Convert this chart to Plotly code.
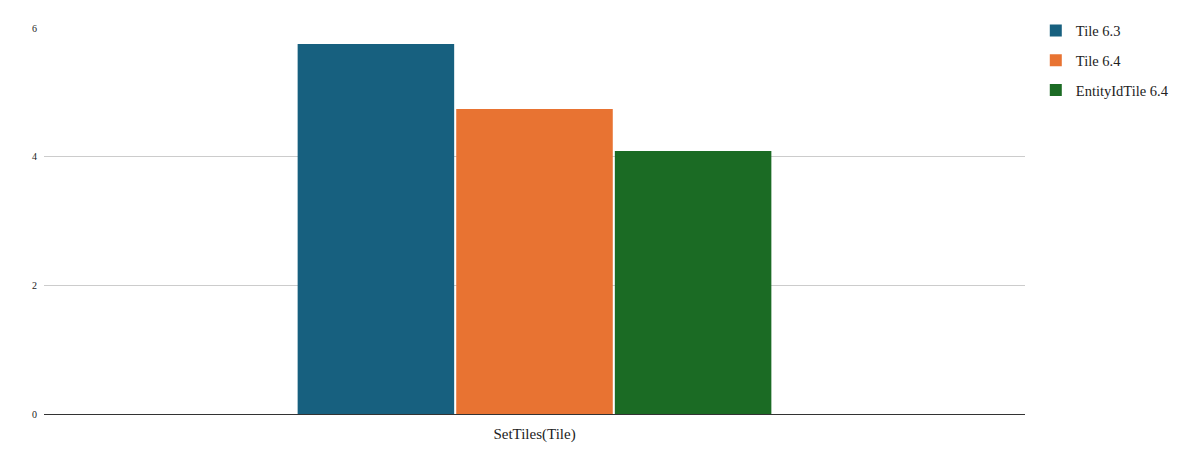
import plotly.graph_objects as go

categories = ["SetTiles(Tile)"]
series_names = ["Tile 6.3", "Tile 6.4", "EntityIdTile 6.4"]
tile_63 = [5.75]
tile_64 = [4.74]
entity_tile_64 = [4.09]
colors = ["#17607F", "#E87332", "#1B6B24"]
y_ticks = [0, 2, 4, 6]

fig = go.Figure()
for i, (name, vals) in enumerate(zip(series_names, [tile_63, tile_64, entity_tile_64])):
    fig.add_trace(go.Bar(
        x=categories, y=vals, name=name, marker_color=colors[i],
        marker_line_width=0, legendgroup=f"g{i}",
    ))

serif = "Liberation Serif, Times New Roman, serif"
fig.update_layout(
    width=1190, height=465,
    margin=dict(l=36, r=173, t=20, b=59, autoexpand=False),
    paper_bgcolor="white", plot_bgcolor="white",
    barmode="group", bargap=0.515, bargroupgap=0.013,
    font=dict(family=serif, color="#222222"),
    showlegend=True,
    legend=dict(
        x=1.011, y=1.035, xanchor="left", yanchor="top",
        font=dict(family=serif, size=14.5, color="#222222"),
        traceorder="grouped", tracegroupgap=8,
        itemwidth=30,
    ),
    xaxis=dict(
        showgrid=False, showline=False, ticks="",
        tickfont=dict(family=serif, size=15, color="#222222"),
        ticklabelstandoff=9,
    ),
    yaxis=dict(
        range=[0, 6], tickvals=y_ticks, ticktext=[str(v) for v in y_ticks],
        showgrid=True, gridcolor="#CCCCCC", gridwidth=1,
        zeroline=True, zerolinecolor="#333333", zerolinewidth=1,
        showline=False, ticks="",
        tickfont=dict(family=serif, size=10, color="#222222"),
        ticklabelstandoff=6,
    ),
)

fig.write_html("out.html")
